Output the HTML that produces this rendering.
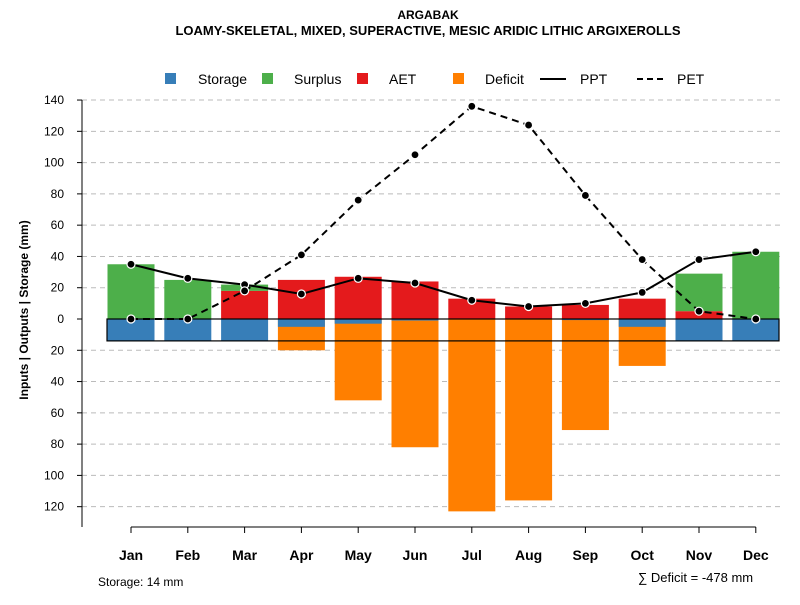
<!DOCTYPE html>
<html><head><meta charset="utf-8"><style>
body{margin:0;background:#fff;font-family:"Liberation Sans",sans-serif}
svg text{font-family:"Liberation Sans",sans-serif}
</style></head><body>
<svg id="c" width="800" height="600" xmlns="http://www.w3.org/2000/svg">
<text x="428" y="19" text-anchor="middle" font-size="12" font-weight="bold">ARGABAK</text>
<text x="428" y="35" text-anchor="middle" font-size="13" font-weight="bold">LOAMY-SKELETAL, MIXED, SUPERACTIVE, MESIC ARIDIC LITHIC ARGIXEROLLS</text>
<g font-size="14">
<rect x="165" y="73" width="11" height="11" fill="#377eb8"/><text x="198" y="84">Storage</text>
<rect x="262" y="73" width="11" height="11" fill="#4daf4a"/><text x="294" y="84">Surplus</text>
<rect x="357" y="73" width="11" height="11" fill="#e41a1c"/><text x="389" y="84">AET</text>
<rect x="453" y="73" width="11" height="11" fill="#ff7f00"/><text x="485" y="84">Deficit</text>
<line x1="540" y1="79" x2="566" y2="79" stroke="#000" stroke-width="2"/><text x="580" y="84">PPT</text>
<line x1="637" y1="79" x2="663" y2="79" stroke="#000" stroke-width="2" stroke-dasharray="6,4"/><text x="677" y="84">PET</text>
</g>
<text transform="translate(28,310) rotate(-90)" text-anchor="middle" font-size="12" font-weight="bold">Inputs | Outputs | Storage    (mm)</text>
<text x="98" y="586" font-size="12">Storage: 14 mm</text>
<text x="638" y="582" font-size="13">∑ Deficit = -478 mm</text>
<g id="g"></g>
</svg>
<script>
const months=["Jan","Feb","Mar","Apr","May","Jun","Jul","Aug","Sep","Oct","Nov","Dec"];
const ppt=[35,26,22,16,26,23,12,8,10,17,38,43];
const pet=[0,0,18,41,76,105,136,124,79,38,5,0];
const aet=[0,0,18,25,27,24,13,8,9,13,5,0];
const surplus=[35,25,4,0,0,0,0,0,0,0,24,43];
const storage=[14,14,14,5,3,1,0,0,0.7,5,14,14];
const deficit=[0,0,0,20,52,82,123,116,71,30,0,0];
const yTicks=[140,120,100,80,60,40,20,0,-20,-40,-60,-80,-100,-120];
const storageCap=14;
const NS="http://www.w3.org/2000/svg",g=document.getElementById('g');
const y=v=>319-v*1.564, x=i=>131+i*56.8, bw=47;
function mk(t,a){const e=document.createElementNS(NS,t);for(const k in a)e.setAttribute(k,a[k]);g.appendChild(e);return e;}
yTicks.forEach(t=>{
 if(t!==0){const l=mk('line',{x1:82,x2:782,y1:y(t),y2:y(t),stroke:'#bbb','stroke-dasharray':'5,4'});
 
 }
 const tk=mk('line',{x1:77,x2:82,y1:y(t),y2:y(t),stroke:'#000'});
 const tx=mk('text',{x:64,y:y(t)+4,'text-anchor':'end','font-size':12});tx.textContent=Math.abs(t);
 
 
});
const ax=mk('line',{x1:82,x2:82,y1:y(140),y2:527,stroke:'#000'});


const xa=mk('line',{x1:x(0),x2:x(11),y1:527,y2:527,stroke:'#000'});


months.forEach((m,i)=>{
 mk('line',{x1:x(i),x2:x(i),y1:527,y2:533,stroke:'#000'});
 const t=mk('text',{x:x(i),y:560,'text-anchor':'middle','font-size':14,'font-weight':'bold'});t.textContent=m;
 
 
 const bx=x(i)-bw/2;
 if(deficit[i]>0){const r=mk('rect',{x:bx,y:y(0),width:bw,height:y(-deficit[i])-y(0),fill:'#ff7f00'});
  
  }
 if(storage[i]>0){const r=mk('rect',{x:bx,y:y(0),width:bw,height:y(-storage[i])-y(0),fill:'#377eb8'});
  
  }
 if(aet[i]>0){const r=mk('rect',{x:bx,y:y(aet[i]),width:bw,height:y(0)-y(aet[i]),fill:'#e41a1c'});
  
  }
 if(surplus[i]>0){const r=mk('rect',{x:bx,y:y(aet[i]+surplus[i]),width:bw,height:y(aet[i])-y(aet[i]+surplus[i]),fill:'#4daf4a'});
  
  }
});
const sb=mk('rect',{x:107,y:y(0),width:672,height:y(-storageCap)-y(0),fill:'none',stroke:'#000','stroke-width':1.2});


function series(arr,name,dash){
 const p=mk('polyline',{points:arr.map((v,i)=>x(i)+','+y(v)).join(' '),fill:'none',stroke:'#000','stroke-width':2,'stroke-dasharray':dash});
 
 
 arr.forEach((v,i)=>{const c=mk('circle',{cx:x(i),cy:y(v),r:4,fill:'#000',stroke:'#fff','stroke-width':1.2});
  
  });
}
series(ppt,'ppt','none');
series(pet,'pet','7,5');
</script>
</body></html>
